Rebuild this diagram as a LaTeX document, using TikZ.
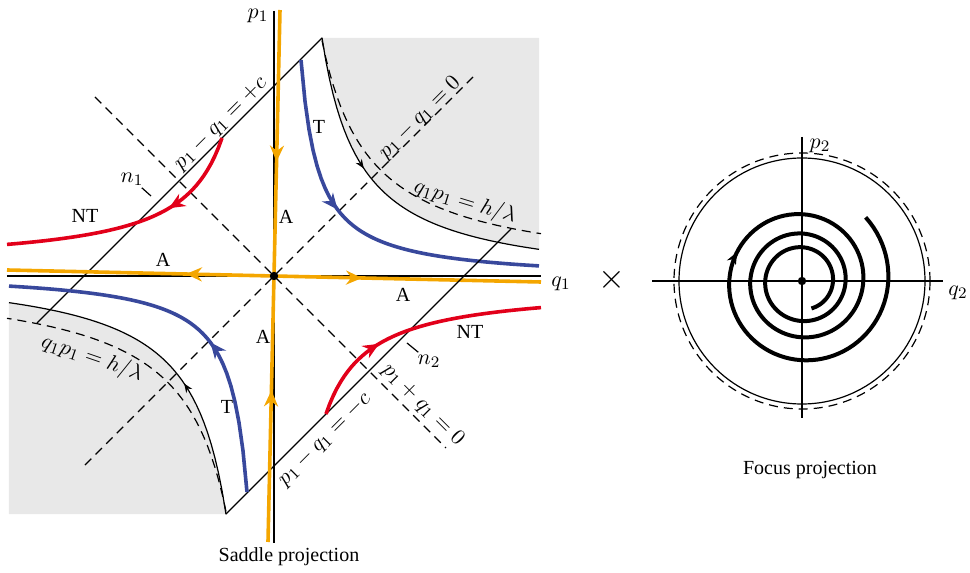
\documentclass[tikz,border=0pt]{standalone}
\usepackage{amsmath}
\usepackage{fontspec}
\setmainfont{Liberation Serif}
\usepackage{tikz}
\usetikzlibrary{arrows.meta,decorations.markings}
\definecolor{flowA}{RGB}{244,166,0}
\definecolor{flowT}{RGB}{56,72,156}
\definecolor{flowNT}{RGB}{226,0,26}
\definecolor{regiongray}{RGB}{232,232,232}

\begin{document}
\begin{tikzpicture}[x=0.5pt,y=0.5pt,
  axl/.style={draw=black,line width=0.6pt},
  dsh/.style={draw=black,line width=0.6pt,dash pattern=on 4.5pt off 3pt},
  flw/.style={line width=1.8pt},
  lbl/.style={font=\fontsize{10.95}{13}\selectfont,inner sep=1pt},
  txt/.style={font=\fontsize{10}{12}\selectfont,inner sep=1pt},
  dot/.style={circle,fill=black,inner sep=0pt,minimum size=4.2pt},
  midtip/.style={postaction={decorate},decoration={markings,mark=at position #1 with {\arrow{Stealth[length=8pt,width=7pt]}}}},
  smalltip/.style={postaction={decorate},decoration={markings,mark=at position #1 with {\arrow{Stealth[length=4.5pt,width=3.6pt]}}}},
  spiraltip/.style={postaction={decorate},decoration={markings,mark=at position #1 with {\arrow{Stealth[length=6pt,width=5pt]}}}}]
  \useasboundingbox (-274,-297) rectangle (696,276);
  \foreach \r in {0,180}{
    \begin{scope}[rotate=\r]
      \fill[regiongray] (48,238) -- (265,238) -- (265,26) -- plot[domain=265:48,samples=60] (\x,{9335/(\x-10.4)-10}) -- cycle;
    \end{scope}
  }
  \draw[axl] (0,265) -- (0,-267);
  \draw[axl] (-267,0) -- (267,0);
  \draw[dsh] (-189,-189) -- (199,199);
  \draw[dsh] (-179,179) -- (172,-172);
  \foreach \r in {0,180}{
    \begin{scope}[rotate=\r]
      \draw[axl] (48,238) -- (-237,-47);
      \draw[axl,smalltip=0.41] plot[domain=48:265,samples=60] (\x,{9335/(\x-10.4)-10});
      \draw[dsh] plot[domain=48:267,samples=60] (\x,{11300/\x});
      \draw[flw,flowT,midtip=0.42] plot[domain=27:265,samples=60] (\x,{3857/(\x-9.55)-5});
      \draw[flw,flowNT,midtip=0.35] plot[domain=-52:-267,samples=60] (\x,{5583/(-\x-8.38)+10});
      \draw[flw,flowA,midtip=0.57] (6,266) -- (0,0);
      \draw[flw,flowA,midtip=0.33] (0,0) -- (267,-6);
    \end{scope}
  }
  \node[dot] (o1) at (0,0) {};

  \node[lbl] (p1) at (-16,260) {$p_1$};
  \node[lbl] (q1) at (287,-8) {$q_1$};
  \node[txt] (nt1) at (-189,60) {NT};
  \node[txt] (nt2) at (196,-56) {NT};
  \node[txt] (t1) at (45,149) {T};
  \node[txt] (t2) at (-47,-131) {T};
  \node[txt] (a1) at (-111,16) {A};
  \node[txt] (a2) at (12,59) {A};
  \node[txt] (a3) at (129,-19) {A};
  \node[txt] (a4) at (-11,-61) {A};
  \node[lbl] (n1) at (-142,97) {$n_1$};
  \node[lbl] (n2) at (155,-85) {$n_2$};
  \coordinate (n1e) at (-123,80);
  \coordinate (n2e) at (133,-67);
  \draw[axl] (n1) -- (n1e);
  \draw[axl] (n2) -- (n2e);
  \node[lbl,rotate=45] (cp) at (-53,152) {$p_1-q_1=+c$};
  \node[lbl,rotate=45] (c0) at (146,158) {$p_1-q_1=0$};
  \node[lbl,rotate=45] (cm) at (51,-164) {$p_1-q_1=-c$};
  \node[lbl,rotate=-45] (s0) at (149,-129) {$p_1+q_1=0$};
  \node[lbl,rotate=-17] (h1) at (191,74) {$q_1p_1=h/\lambda$};
  \node[lbl,rotate=-19] (h2) at (-182,-82) {$q_1p_1=h/\lambda$};
  \node[txt] (sad) at (15,-281) {Saddle projection};

  \node[font=\fontsize{17.28}{20}\selectfont] (times) at (338,-4) {$\times$};

  \begin{scope}[shift={(528,-5)}]
    \draw[axl] (-150,0) -- (141,0);
    \draw[axl] (0,144) -- (0,-137);
    \draw[axl] (0,0) circle (123);
    \draw[dsh] (0,0) circle (128);
    \draw[line width=2pt,spiraltip=0.31] plot[domain=45:-1151,samples=300]
      ({90*exp(-0.341*(45-\x)/360)*cos(\x)},{90*exp(-0.341*(45-\x)/360)*sin(\x)});
    \node[dot] (o2) at (0,0) {};
    \node[lbl] (p2) at (18,135) {$p_2$};
    \node[lbl] (q2) at (156,-12) {$q_2$};
    \node[txt] (foc) at (8,-189) {Focus projection};
  \end{scope}
\end{tikzpicture}
\end{document}
